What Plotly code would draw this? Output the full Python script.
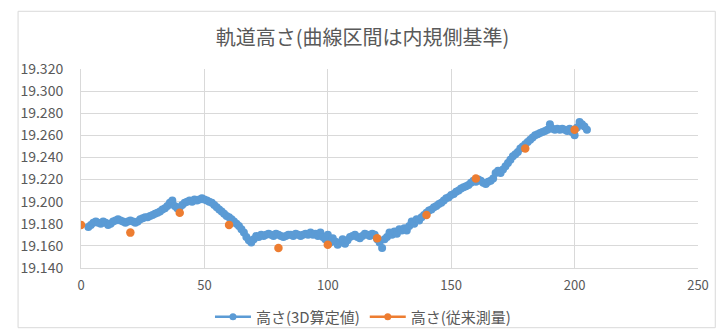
import plotly.graph_objects as go

# ---- data ----
x_3d = list(range(3, 206))
h_3d = [
    19.177, 19.179, 19.181, 19.182, 19.181, 19.180, 19.182, 19.181, 19.179, 19.180,
    19.182, 19.183, 19.184, 19.183, 19.182, 19.181, 19.182, 19.183, 19.182, 19.181,
    19.182, 19.184, 19.185, 19.186, 19.186, 19.187, 19.188, 19.189, 19.190, 19.191,
    19.193, 19.194, 19.196, 19.199, 19.201, 19.196, 19.194, 19.195, 19.197, 19.199,
    19.200, 19.201, 19.200, 19.202, 19.201, 19.202, 19.203, 19.202, 19.201, 19.200,
    19.199, 19.197, 19.195, 19.193, 19.191, 19.189, 19.187, 19.186, 19.184, 19.182,
    19.180, 19.178, 19.175, 19.172, 19.168, 19.165, 19.163, 19.166, 19.169, 19.168,
    19.170, 19.169, 19.170, 19.171, 19.170, 19.169, 19.171, 19.170, 19.169, 19.168,
    19.169, 19.170, 19.170, 19.169, 19.171, 19.170, 19.169, 19.170, 19.171, 19.170,
    19.172, 19.170, 19.171, 19.169, 19.172, 19.168, 19.166, 19.170, 19.163, 19.167,
    19.164, 19.161, 19.163, 19.166, 19.162, 19.165, 19.168, 19.169, 19.170, 19.168,
    19.167, 19.169, 19.171, 19.170, 19.169, 19.171, 19.170, 19.166, 19.163, 19.158,
    19.166, 19.168, 19.172, 19.170, 19.173, 19.171, 19.175, 19.174, 19.176, 19.174,
    19.178, 19.182, 19.180, 19.184, 19.183, 19.186, 19.188, 19.190, 19.192, 19.193,
    19.195, 19.196, 19.198, 19.199, 19.201, 19.203, 19.204, 19.206, 19.207, 19.209,
    19.210, 19.212, 19.213, 19.214, 19.215, 19.217, 19.219, 19.218, 19.220, 19.219,
    19.217, 19.216, 19.218, 19.219, 19.221, 19.226, 19.228, 19.226, 19.229, 19.232,
    19.235, 19.238, 19.241, 19.243, 19.245, 19.248, 19.250, 19.252, 19.254, 19.256,
    19.258, 19.260, 19.261, 19.262, 19.263, 19.264, 19.265, 19.270, 19.266, 19.265,
    19.266, 19.265, 19.266, 19.265, 19.264, 19.266, 19.263, 19.260, 19.267, 19.272,
    19.270, 19.268, 19.265,
]
x_conv = [0, 20, 40, 60, 80, 100, 120, 140, 160, 180, 200]
h_conv = [19.179, 19.172, 19.190, 19.179, 19.158, 19.161, 19.167, 19.188, 19.221, 19.248, 19.265]

name_3d = "高さ(3D算定値)"
name_conv = "高さ(従来測量)"
title = "軌道高さ(曲線区間は内規側基準)"
y_ticks = [19.14, 19.16, 19.18, 19.20, 19.22, 19.24, 19.26, 19.28, 19.30, 19.32]
x_ticks = [0, 50, 100, 150, 200, 250]

BLUE = "#5B9BD5"
ORANGE = "#ED7D31"
FONT = "Noto Sans CJK JP"
GREY = "#595959"

fig = go.Figure()
fig.add_trace(go.Scatter(x=x_3d, y=h_3d, mode="markers", name=name_3d,
                         marker=dict(color=BLUE, size=8), showlegend=False))
fig.add_trace(go.Scatter(x=x_conv, y=h_conv, mode="markers", name=name_conv,
                         marker=dict(color=ORANGE, size=8.5), showlegend=False))
# legend entries (line + marker symbol)
fig.add_trace(go.Scatter(x=[None], y=[None], mode="lines+markers", name=name_3d,
                         line=dict(color=BLUE, width=2.5), marker=dict(color=BLUE, size=7)))
fig.add_trace(go.Scatter(x=[None], y=[None], mode="lines+markers", name=name_conv,
                         line=dict(color=ORANGE, width=2.5), marker=dict(color=ORANGE, size=7)))

fig.update_layout(
    width=725, height=331,
    margin=dict(l=81, r=27, t=69, b=63, autoexpand=False),
    paper_bgcolor="white", plot_bgcolor="white",
    font=dict(family=FONT, color=GREY, size=13),
    title=dict(text=title, x=0.5, xanchor="center", y=0.885, yanchor="middle",
               font=dict(family=FONT, size=20, color=GREY)),
    legend=dict(orientation="h", x=0.457, xanchor="center", y=-0.246, yanchor="middle",
                font=dict(family=FONT, size=15, color=GREY), itemwidth=36,
                borderwidth=0, bgcolor="rgba(0,0,0,0)"),
    shapes=[dict(type="rect", xref="paper", yref="paper", x0=-0.102, x1=1.028, y0=-0.30, y1=1.29,
                 line=dict(color="#D9D9D9", width=1), layer="below")],
)
fig.update_xaxes(range=[0, 250], tickvals=x_ticks, ticktext=[str(v) for v in x_ticks],
                 showgrid=True, gridcolor="#D9D9D9", gridwidth=1, automargin=False,
                 showline=True, linecolor="#D9D9D9", mirror=False, zeroline=False,
                 ticks="", ticklabelstandoff=5, tickfont=dict(size=13, color=GREY))
fig.update_yaxes(range=[19.14, 19.32], tickvals=y_ticks, ticktext=[f"{v:.3f}" for v in y_ticks],
                 showgrid=True, gridcolor="#D9D9D9", gridwidth=1, zeroline=False, automargin=False,
                 showline=True, linecolor="#D9D9D9", ticks="", ticklabelstandoff=14,
                 tickfont=dict(size=14, color=GREY))

fig.write_html("out.html")
